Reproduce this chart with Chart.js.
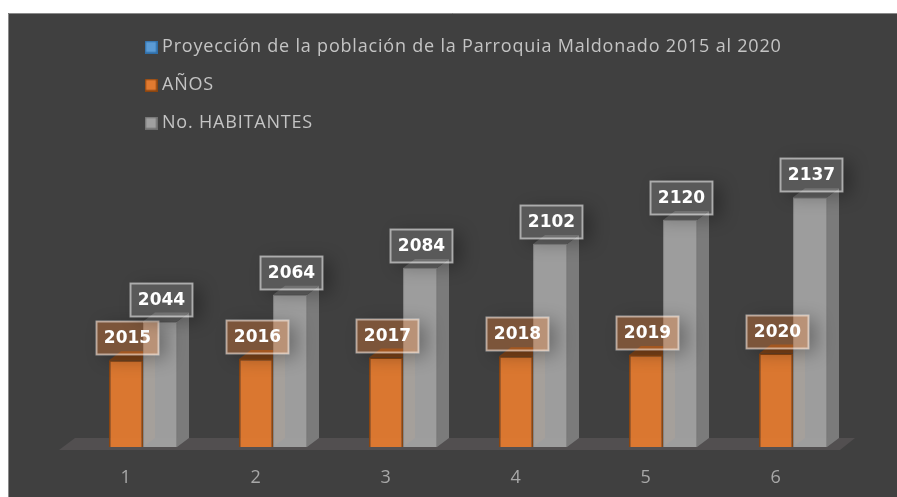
<!DOCTYPE html>
<html>
<head>
<meta charset="utf-8">
<style>html,body{margin:0;padding:0;background:#fff}canvas{display:block}</style>
<script src="https://cdn.jsdelivr.net/npm/chart.js@4"></script>
</head>
<body>
<canvas id="c" width="897" height="497"></canvas>
<script>
const categories = ["1", "2", "3", "4", "5", "6"];
const seriesNames = ["Proyección de la población de la Parroquia Maldonado 2015 al 2020", "AÑOS", "No. HABITANTES"];
const proyeccion = [null, null, null, null, null, null];
const anios = [2015, 2016, 2017, 2018, 2019, 2020];
const habitantes = [2044, 2064, 2084, 2102, 2120, 2137];
const DEPTH_X = 12, DEPTH_Y = 9;

const LABEL_FONT = 'bold 17px "DejaVu Sans"';

function swatch(fill, stroke) {
  const c = document.createElement('canvas');
  c.width = 13; c.height = 13;
  const g = c.getContext('2d');
  g.fillStyle = fill;
  g.fillRect(0, 0, 13, 13);
  g.strokeStyle = stroke;
  g.lineWidth = 1.5;
  g.strokeRect(0.75, 0.75, 11.5, 11.5);
  return c;
}

const scene = {
  id: 'scene',
  beforeDraw(chart) {
    const { ctx, width, height } = chart;
    ctx.save();
    ctx.fillStyle = '#ffffff';
    ctx.fillRect(0, 0, width, height);
    ctx.fillStyle = '#404040';
    ctx.fillRect(8, 13, width - 8, height - 13);
    ctx.strokeStyle = '#8a8a8a';
    ctx.lineWidth = 1;
    ctx.beginPath();
    ctx.moveTo(8.5, height);
    ctx.lineTo(8.5, 13.5);
    ctx.lineTo(width, 13.5);
    ctx.stroke();
    ctx.restore();
    ctx.letterSpacing = '0.8px';
  },
  beforeDatasetsDraw(chart) {
    const { ctx, chartArea: a } = chart;
    ctx.letterSpacing = '0px';
    const y0 = a.bottom;
    ctx.save();
    ctx.fillStyle = '#524f50';
    ctx.beginPath();
    ctx.moveTo(a.left - 2, y0 + 3);
    ctx.lineTo(a.left + 14, y0 - 9);
    ctx.lineTo(a.right + 14, y0 - 9);
    ctx.lineTo(a.right - 1, y0 + 3);
    ctx.closePath();
    ctx.fill();
    const faces = [
      { i: 2, side: '#7b7b7b', top: '#626262' },
      { i: 1, side: '#a8622c', top: '#7d4318' }
    ];
    faces.forEach(f => {
      chart.getDatasetMeta(f.i).data.forEach(el => {
        const r = el.x + el.width / 2, l = el.x - el.width / 2;
        ctx.fillStyle = f.side;
        ctx.beginPath();
        ctx.moveTo(r, el.y);
        ctx.lineTo(r + DEPTH_X, el.y - DEPTH_Y);
        ctx.lineTo(r + DEPTH_X, y0 - DEPTH_Y);
        ctx.lineTo(r, y0);
        ctx.closePath();
        ctx.fill();
        ctx.fillStyle = f.top;
        ctx.beginPath();
        ctx.moveTo(l, el.y);
        ctx.lineTo(l + DEPTH_X, el.y - DEPTH_Y);
        ctx.lineTo(r + DEPTH_X, el.y - DEPTH_Y);
        ctx.lineTo(r, el.y);
        ctx.closePath();
        ctx.fill();
      });
    });
    ctx.restore();
  },
  afterDatasetsDraw(chart) {
    const { ctx } = chart;
    const W = 63, H = 34;
    [[1, 'rgba(237,125,49,0.35)'], [2, 'rgba(165,165,165,0.25)']].forEach(([i, fill]) => {
      const values = chart.data.datasets[i].data;
      chart.getDatasetMeta(i).data.forEach((el, k) => {
        const x = Math.round(el.x + 1.5 - W / 2), y = Math.round(el.y - 22 - H / 2);
        ctx.save();
        ctx.beginPath();
        ctx.rect(0, 0, chart.width, chart.height);
        ctx.rect(x, y, W, H);
        ctx.clip('evenodd');
        ctx.shadowColor = 'rgba(0,0,0,0.3)';
        ctx.shadowBlur = 18;
        ctx.shadowOffsetX = 8;
        ctx.shadowOffsetY = 4;
        ctx.fillStyle = '#000';
        ctx.fillRect(x, y, W, H);
        ctx.restore();
        ctx.save();
        ctx.fillStyle = fill;
        ctx.fillRect(x, y, W, H);
        ctx.strokeStyle = 'rgba(255,255,255,0.5)';
        ctx.lineWidth = 2;
        ctx.strokeRect(x + 0.5, y + 0.5, W - 1, H - 1);
        ctx.fillStyle = '#ffffff';
        ctx.font = LABEL_FONT;
        ctx.textAlign = 'center';
        ctx.textBaseline = 'middle';
        ctx.fillText(String(values[k]), x + W / 2, y + H / 2 + 1);
        ctx.restore();
      });
    });
  },
  afterLayout(chart) {
    const l = chart.legend;
    const w = l.right - l.left + 80, h = l.bottom - l.top;
    l.left = 129; l.right = 129 + w;
    l.top = 18; l.bottom = 18 + h;
  }
};

const swatches = [swatch('#5b9bd5', '#2f6ea8'), swatch('#e17a30', '#8a4510'), swatch('#a0a0a0', '#6f6f6f')];

new Chart(document.getElementById('c'), {
  type: 'bar',
  data: {
    labels: categories,
    datasets: [
      { label: seriesNames[0], data: proyeccion, backgroundColor: '#5b9bd5', borderColor: '#2f6ea8', borderWidth: 1 },
      { label: seriesNames[1], data: anios, backgroundColor: 'rgba(225,122,48,0.96)', borderColor: '#8a4510', borderWidth: 1.5 },
      { label: seriesNames[2], data: habitantes, backgroundColor: 'rgba(165,165,165,0.92)', borderColor: '#858585', borderWidth: 1 }
    ]
  },
  options: {
    responsive: false,
    animation: false,
    categoryPercentage: 0.785,
    barPercentage: 1,
    layout: { padding: { left: 61, right: 56, top: 180, bottom: 0 } },
    plugins: {
      tooltip: { enabled: false },
      legend: {
        position: 'chartArea',
        align: 'start',
        labels: {
          usePointStyle: true,
          pointStyleWidth: 4,
          boxHeight: 12,
          padding: 20,
          color: '#c4c4c4',
          font: { family: '"Open Sans"', size: 18 },
          generateLabels(chart) {
            return Chart.defaults.plugins.legend.labels.generateLabels(chart)
              .map((item, i) => Object.assign(item, { pointStyle: swatches[i] }));
          }
        }
      }
    },
    scales: {
      x: {
        grid: { display: false },
        border: { display: false },
        ticks: { color: '#a8a8a8', padding: 12, font: { family: '"Open Sans"', size: 18 } },
        afterFit(s) { s.height = 50; }
      },
      y: { display: false, min: 1950, max: 2150 }
    }
  },
  plugins: [scene]
});
</script>
</body>
</html>
